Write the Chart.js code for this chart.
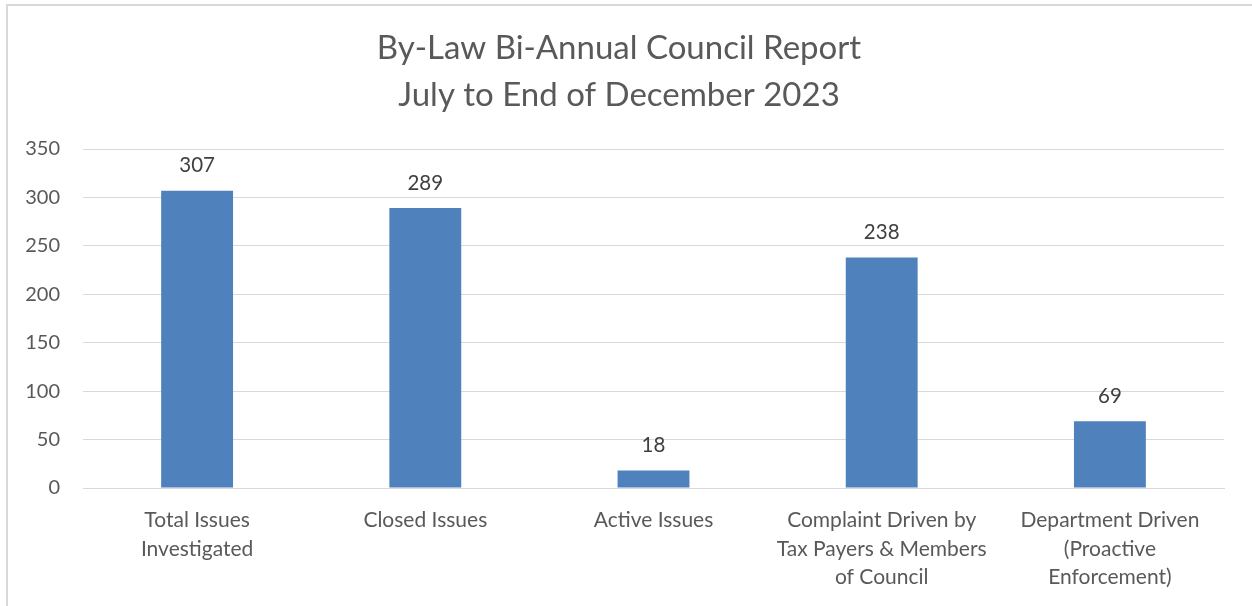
<!DOCTYPE html>
<html>
<head>
<meta charset="utf-8">
<script src="https://cdn.jsdelivr.net/npm/chart.js@4.4.0/dist/chart.umd.min.js"></script>
<style>
  html, body { margin: 0; padding: 0; background: #fff; }
  #wrap { position: relative; width: 1252px; height: 606px; overflow: hidden; }
  #frame { position: absolute; left: 6px; top: 4px; width: 1400px; height: 800px; border: 2px solid #d9d9d9; box-sizing: border-box; }
  canvas { position: absolute; left: 0; top: 0; }
</style>
</head>
<body>
<div id="wrap">
  <div id="frame"></div>
  <canvas id="c" width="1252" height="606"></canvas>
</div>
<script>
const categories = [
  ["Total Issues", "Investigated"],
  ["Closed Issues"],
  ["Active Issues"],
  ["Complaint Driven by", "Tax Payers & Members", "of Council"],
  ["Department Driven", "(Proactive", "Enforcement)"]
];
const values = [307, 289, 18, 238, 69];
const yTicks = [0, 50, 100, 150, 200, 250, 300, 350];
const titleLines = ["By-Law Bi-Annual Council Report", "July to End of December 2023"];

const FONT = "Lato, 'Open Sans', sans-serif";
const TEXT = "#595959";

const titleDraw = {
  id: "titleDraw",
  afterDraw(chart) {
    const ctx = chart.ctx;
    ctx.save();
    ctx.font = "33px " + FONT;
    ctx.fillStyle = TEXT;
    ctx.textAlign = "center";
    ctx.textBaseline = "middle";
    ctx.fillText(titleLines[0], 619, 48);
    ctx.fillText(titleLines[1], 619, 95);
    ctx.restore();
  }
};

const dataLabels = {
  id: "dataLabels",
  afterDatasetsDraw(chart) {
    const ctx = chart.ctx;
    const meta = chart.getDatasetMeta(0);
    ctx.save();
    ctx.font = "20.5px " + FONT;
    ctx.fillStyle = "#404040";
    ctx.textAlign = "center";
    ctx.textBaseline = "middle";
    meta.data.forEach((bar, i) => {
      ctx.fillText(String(values[i]), bar.x, bar.y - 25);
    });
    ctx.restore();
  }
};

new Chart(document.getElementById("c"), {
  type: "bar",
  data: {
    labels: categories,
    datasets: [{
      data: values,
      backgroundColor: "#4F81BD",
      borderWidth: 0,
      barPercentage: 0.63,
      categoryPercentage: 0.5
    }]
  },
  options: {
    responsive: false,
    animation: false,
    devicePixelRatio: 1,
    layout: { padding: { left: 0, right: 28, top: 149, bottom: 0 } },
    plugins: {
      legend: { display: false },
      tooltip: { enabled: false },
      title: { display: false }
    },
    scales: {
      x: {
        grid: { display: false, drawTicks: false },
        border: { display: true, color: "#d9d9d9", width: 1 },
        ticks: {
          color: TEXT,
          font: { family: FONT, size: 21, lineHeight: 1.36 },
          padding: 18,
          maxRotation: 0,
          autoSkip: false
        },
        afterFit(axis) { axis.height = 118; }
      },
      y: {
        min: 0,
        max: 350,
        afterBuildTicks(axis) { axis.ticks = yTicks.map(v => ({ value: v })); },
        grid: { color: "#d9d9d9", lineWidth: 1, drawTicks: false },
        border: { display: false },
        ticks: {
          color: TEXT,
          font: { family: FONT, size: 20 },
          padding: 23
        },
        afterFit(axis) { axis.width = 83; }
      }
    }
  },
  plugins: [dataLabels, titleDraw]
});
</script>
</body>
</html>
